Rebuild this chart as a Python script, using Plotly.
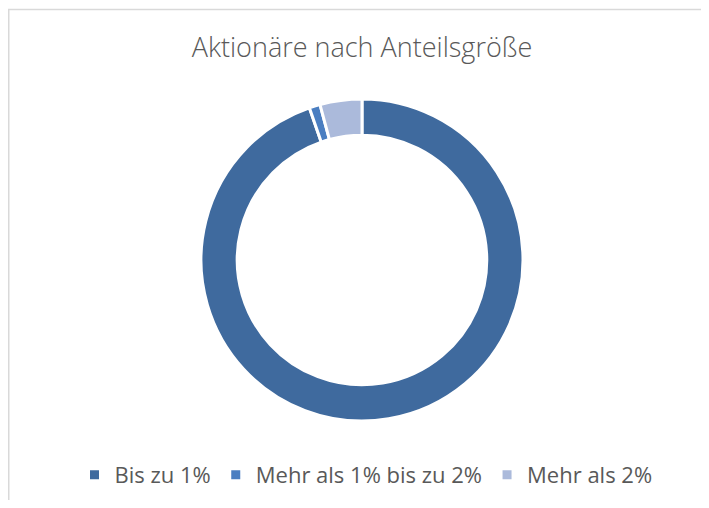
import plotly.graph_objects as go

labels = ["Bis zu 1%", "Mehr als 1% bis zu 2%", "Mehr als 2%"]
values = [94.7, 1.1, 4.2]
colors = ["#3F6A9E", "#4A7EC1", "#ABBADB"]

# page has 8px body margin; figure sized so page = 709x508
OFF = 8
W, H = 709 - 2 * OFF, 508 - 2 * OFF
cx, cy, R = 362 - OFF, 260 - OFF, 161

fig = go.Figure(go.Pie(
    labels=labels, values=values, hole=0.775, sort=False, direction="clockwise",
    rotation=0, textinfo="none", hoverinfo="label+percent",
    marker=dict(colors=colors, line=dict(color="white", width=3)),
    domain=dict(x=[(cx - R) / W, (cx + R) / W], y=[1 - (cy + R) / H, 1 - (cy - R) / H]),
))

fig.update_layout(
    width=W, height=H,
    margin=dict(l=0, r=0, t=0, b=0),
    paper_bgcolor="white",
    title=dict(text="Aktionäre nach Anteilsgröße", x=cx / W, xanchor="center",
               y=1 - (48 - OFF) / H, yanchor="middle",
               font=dict(family="Open Sans", size=27, color="#595959", weight=300)),
    legend=dict(orientation="h", x=(366 - OFF) / W, xanchor="center",
                y=1 - (475 - OFF) / H, yanchor="middle",
                font=dict(family="Open Sans", size=22, color="#595959"),
                itemwidth=30, traceorder="normal"),
    shapes=[dict(type="rect", xref="paper", yref="paper",
                 x0=0.75 / W, x1=1.2, y0=-0.2, y1=1 - 1.5 / H,
                 line=dict(color="#D9D9D9", width=1.5), layer="below")],
)

fig.write_html("out.html")
